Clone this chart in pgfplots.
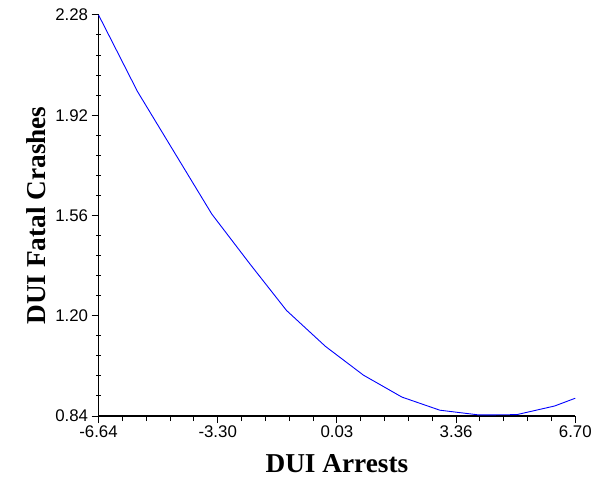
\documentclass[border=0pt]{standalone}
\usepackage{fontspec}
\setmainfont{Liberation Serif}
\newfontfamily\arial{Liberation Sans}
\usepackage{pgfplots}
\pgfplotsset{compat=1.18}

\begin{document}
\begin{tikzpicture}
  \begin{axis}[
      scale only axis,
      width=479bp, height=403bp,
      xmin=-6.64, xmax=6.70,
      ymin=0.84, ymax=2.28,
      axis lines=left,
      axis line style={line width=1.1bp, -},
      xtick={-6.64,-3.305,0.03,3.365,6.70},
      xticklabels={-6.64,-3.30,0.03,3.36,6.70},
      ytick={0.84,1.20,1.56,1.92,2.28},
      yticklabels={0.84,1.20,1.56,1.92,2.28},
      minor tick num=4,
      tick align=outside,
      major tick length=7bp,
      minor tick length=5bp,
      every tick/.style={black, line width=1bp},
      minor y tick style={xshift=2.5bp},
      ticklabel style={font=\arial\fontsize{17}{17}\selectfont},
      xticklabel style={yshift=1bp},
      xlabel={\textbf{DUI Arrests}},
      ylabel={\textbf{DUI Fatal Crashes}},
      label style={font=\fontsize{27.5}{27.5}\selectfont},
      xlabel style={yshift=-10bp},
      ylabel style={yshift=3bp},
      clip=false,
    ]
    \addplot[color={rgb,255:red,0;green,0;blue,255}, line width=0.9bp] coordinates {
        (-6.64,2.280) (-5.55,2.005) (-4.52,1.787) (-3.47,1.565)
        (-2.41,1.387) (-1.38,1.219) (-0.29,1.090) (0.77,0.987)
        (1.85,0.908) (2.91,0.861) (4.00,0.844) (5.06,0.845)
        (6.12,0.876) (6.70,0.904)
      };
    \coordinate (bl) at (rel axis cs:0,0);
    \coordinate (tr) at (rel axis cs:1,1);
  \end{axis}
  \path ([shift={(-99bp,-63bp)}]bl) rectangle ([shift={(17bp,15bp)}]tr);
\end{tikzpicture}
\end{document}
